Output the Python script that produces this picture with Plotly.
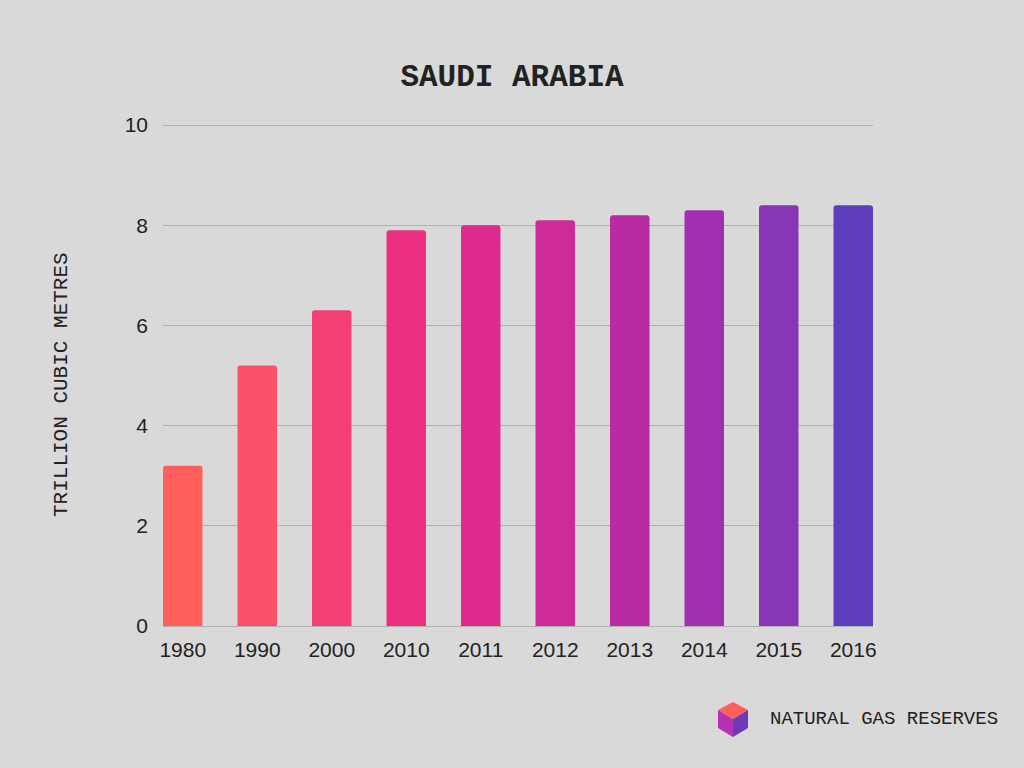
import plotly.graph_objects as go

# Data
years = ['1980', '1990', '2000', '2010', '2011', '2012', '2013', '2014', '2015', '2016']
reserves = [3.2, 5.2, 6.3, 7.9, 8.0, 8.1, 8.2, 8.3, 8.4, 8.4]
bar_colors = ['#FF5E5B', '#FC4F6A', '#F43F74', '#EC2F80', '#DE2A8E',
              '#CE2A98', '#B92BA0', '#A22FAE', '#8736B5', '#5F3DBF']
y_ticks = [0, 2, 4, 6, 8, 10]

W, H = 1024, 768
L, R, T, B = 163, 151, 122, 142
bg = '#D9D9D9'
slab = 'Liberation Mono'
bar_w = 0.53


def px(x, y):
    # pixel position -> paper coordinates
    return (x - L) / (W - L - R), (H - B - y) / (H - T - B)


def path(points):
    pts = [px(x, y) for x, y in points]
    return 'M ' + ' L '.join(f'{a:.4f},{b:.4f}' for a, b in pts) + ' Z'


fig = go.Figure(go.Bar(x=years, y=reserves,
                       marker=dict(color=bar_colors, line=dict(width=0), cornerradius=3),
                       hoverinfo='x+y'))

# logo cube
top, ul, ur = (733, 702), (718, 710), (748, 710)
ll, lr, bot, ctr = (718, 728), (748, 728), (733, 737), (733, 719)
cube = [
    ([top, ur, ctr, ul], '#FF5E5B'),
    ([ul, ctr, bot, ll], '#B62FB5'),
    ([ctr, ur, lr, bot], '#6A3AB8'),
]
shapes = [dict(type='path', xref='paper', yref='paper', path=path(p),
               fillcolor=c, line=dict(width=0)) for p, c in cube]

tx, ty = px(768, 719)
yx, yy = px(62, 385)
annotations = [
    dict(text='NATURAL GAS RESERVES', xref='paper', yref='paper', x=tx, y=ty,
         xanchor='left', yanchor='middle', showarrow=False,
         font=dict(family=slab, size=19, color='#222222')),
    dict(text='TRILLION CUBIC METRES', xref='paper', yref='paper', x=yx, y=yy,
         xanchor='center', yanchor='middle', textangle=-90, showarrow=False,
         font=dict(family=slab, size=21, color='#222222')),
]

fig.update_layout(
    width=W, height=H,
    margin=dict(l=L, r=R, t=T, b=B, pad=0),
    paper_bgcolor=bg, plot_bgcolor=bg,
    title=dict(text='<b>SAUDI ARABIA</b>', x=0.5, xanchor='center', y=1 - 75 / H, yanchor='middle',
               font=dict(family=slab, size=31, color='#222222')),
    font=dict(family='Liberation Sans', size=21, color='#222222'),
    bargap=1 - bar_w,
    showlegend=False,
    shapes=shapes,
    annotations=annotations,
    xaxis=dict(range=[-bar_w / 2, len(years) - 1 + bar_w / 2],
               showgrid=False, showline=False, ticks='', ticklabelstandoff=9,
               tickfont=dict(size=21)),
    yaxis=dict(range=[0, 10.06], tickvals=y_ticks, showgrid=True, gridcolor='#B0B0B0', gridwidth=1.3,
               zeroline=True, zerolinecolor='#B0B0B0', zerolinewidth=1.3,
               showline=False, ticks='', ticklabelstandoff=14, tickfont=dict(size=21)),
)

fig.write_html('out.html', config={'displayModeBar': False},
               post_script="document.body.style.margin='0';")
